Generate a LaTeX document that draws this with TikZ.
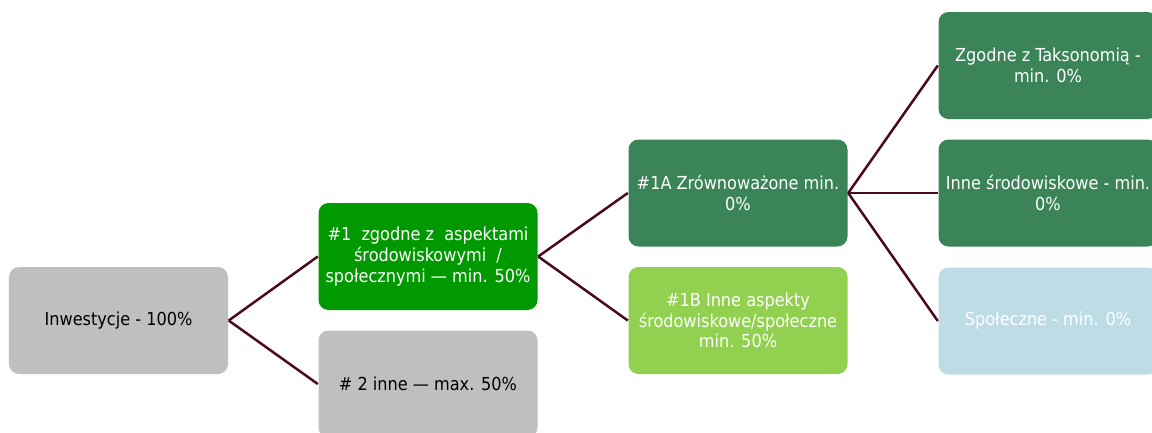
\documentclass[tikz,border=0pt]{standalone}
\usepackage{fontspec}
\IfFontExistsTF{DejaVu Sans Condensed}
  {\setmainfont{DejaVu Sans Condensed}}
  {\setmainfont{DejaVu Sans}[FakeStretch=0.9]}

\definecolor{greyBox}{HTML}{BFBFBF}
\definecolor{brightGreen}{HTML}{009A00}
\definecolor{darkGreen}{HTML}{3A8457}
\definecolor{lightGreen}{HTML}{92D050}
\definecolor{paleBlue}{HTML}{BDDCE5}
\definecolor{linkRed}{HTML}{4A0A1E}

\begin{document}
\begin{tikzpicture}[
  box/.style={rectangle, rounded corners=0.1cm, minimum width=2.19cm, minimum height=1.07cm,
    inner sep=0pt, align=center, font=\fontsize{5.1}{5.9}\selectfont},
  link/.style={draw=linkRed, line width=0.025cm}]
\clip (0,0) rectangle (11.52,4.32);

% Inwestycje
\node[box, fill=greyBox, text=black] (inv) at (1.185,1.115) {Inwestycje - 100\%};

% #1 / #2
\node[box, fill=brightGreen, text=white] (one) at (4.28,1.755) {\#1\ \ zgodne z\ \ aspektami\\środowiskowymi\ \ /\\społecznymi — min. 50\%};
\node[box, fill=greyBox, text=black] (two) at (4.28,0.48) {\# 2 inne — max. 50\%};

% #1A / #1B
\node[box, fill=darkGreen, text=white] (oneA) at (7.38,2.39) {\#1A Zrównoważone min.\\0\%};
\node[box, fill=lightGreen, text=white] (oneB) at (7.38,1.115) {\#1B Inne aspekty\\środowiskowe/społeczne\\min. 50\%};

% right column
\node[box, fill=darkGreen, text=white] (tax) at (10.48,3.665) {Zgodne z Taksonomią -\\min. 0\%};
\node[box, fill=darkGreen, text=white] (env) at (10.48,2.39) {Inne środowiskowe - min.\\0\%};
\node[box, fill=paleBlue, text=white] (soc) at (10.48,1.11) {Społeczne - min. 0\%};

\draw[link] (inv.east) -- (one.west);
\draw[link] (inv.east) -- (two.west);
\draw[link] (one.east) -- (oneA.west);
\draw[link] (one.east) -- (oneB.west);
\draw[link] (oneA.east) -- (tax.west);
\draw[link] (oneA.east) -- (env.west);
\draw[link] (oneA.east) -- (soc.west);
\end{tikzpicture}
\end{document}
